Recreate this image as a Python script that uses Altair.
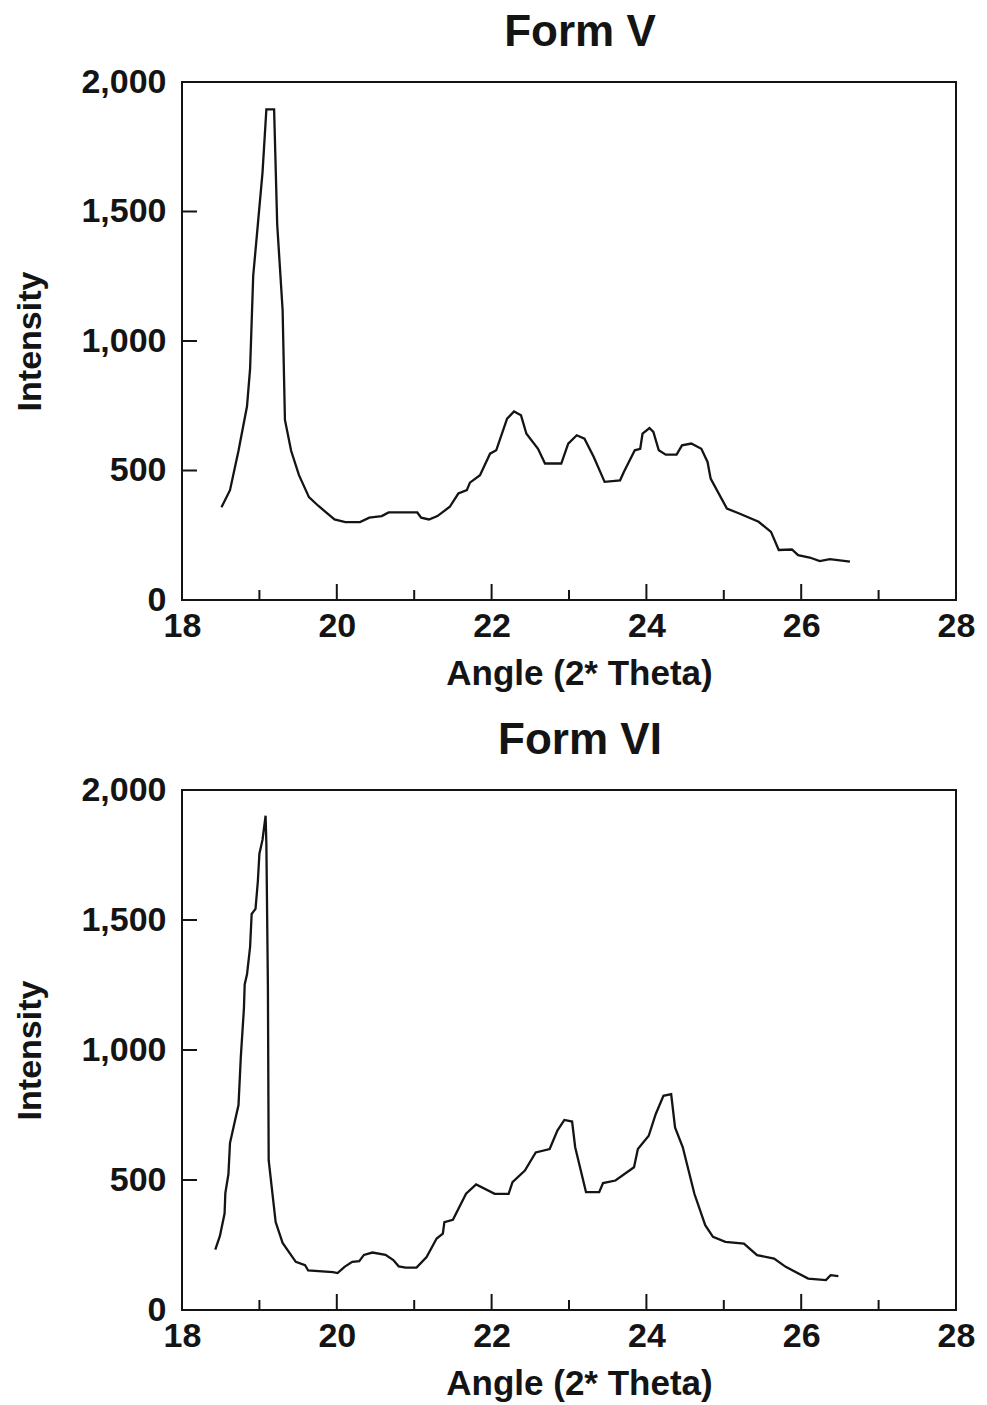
import altair as alt
import pandas as pd

# ---- data ----
v_angle = [18.51, 18.62, 18.73, 18.84, 18.88, 18.92, 18.98, 19.04, 19.09, 19.19,
           19.23, 19.30, 19.33, 19.41, 19.51, 19.64, 19.76, 19.97, 20.11, 20.30,
           20.42, 20.58, 20.67, 21.04, 21.09, 21.19, 21.30, 21.46, 21.57, 21.68,
           21.72, 21.85, 21.98, 22.06, 22.20, 22.29, 22.38, 22.45, 22.60, 22.69,
           22.90, 22.99, 23.10, 23.20, 23.32, 23.46, 23.66, 23.71, 23.85, 23.92,
           23.95, 24.04, 24.09, 24.16, 24.25, 24.39, 24.46, 24.58, 24.71, 24.79,
           24.83, 25.04, 25.20, 25.45, 25.61, 25.71, 25.88, 25.96, 26.11, 26.24,
           26.37, 26.63]
v_int = [358, 424, 576, 748, 894, 1252, 1450, 1649, 1894, 1894,
         1450, 1119, 695, 576, 483, 397, 364, 311, 301, 301,
         318, 324, 338, 338, 318, 311, 324, 360, 411, 424,
         453, 482, 565, 578, 700, 728, 713, 642, 584, 527,
         527, 604, 636, 623, 552, 456, 462, 495, 578, 584,
         642, 664, 649, 578, 561, 561, 597, 604, 584, 533,
         469, 353, 334, 302, 263, 193, 195, 173, 164, 150,
         158, 148]

vi_angle = [18.43, 18.49, 18.55, 18.56, 18.60, 18.62, 18.68, 18.73, 18.76, 18.80,
            18.81, 18.84, 18.88, 18.90, 18.95, 18.98, 19.00, 19.04, 19.08, 19.09,
            19.11, 19.12, 19.17, 19.21, 19.30, 19.47, 19.59, 19.63, 19.95, 20.01,
            20.10, 20.20, 20.29, 20.35, 20.46, 20.63, 20.73, 20.80, 20.89, 21.03,
            21.16, 21.29, 21.37, 21.39, 21.50, 21.67, 21.80, 22.04, 22.22, 22.27,
            22.43, 22.57, 22.75, 22.85, 22.94, 23.04, 23.08, 23.22, 23.39, 23.44,
            23.60, 23.84, 23.89, 24.03, 24.12, 24.22, 24.32, 24.37, 24.47, 24.62,
            24.76, 24.86, 25.02, 25.26, 25.43, 25.65, 25.80, 26.09, 26.32, 26.38,
            26.48]
vi_int = [232, 285, 371, 450, 523, 642, 722, 788, 974, 1159,
          1252, 1291, 1397, 1523, 1543, 1649, 1755, 1808, 1901, 1795,
          1238, 576, 444, 338, 258, 185, 172, 152, 146, 142,
          166, 185, 188, 212, 221, 212, 192, 168, 163, 163,
          204, 275, 294, 338, 347, 447, 483, 447, 447, 492,
          536, 606, 619, 690, 731, 725, 626, 453, 453, 488,
          498, 549, 619, 670, 753, 824, 830, 702, 626, 447,
          326, 281, 262, 255, 211, 198, 166, 121, 115, 134,
          130]

panel_titles = ["Form V", "Form VI"]
x_label_values = [18, 20, 22, 24, 26, 28]
y_label_values = [0, 500, 1000, 1500, 2000]
x_major_ticks = [20, 22, 24, 26]
x_minor_ticks = [19, 21, 23, 25, 27]
y_inner_ticks = [500, 1000, 1500]

W = 774
FONT = "Liberation Sans"
INK = "#141414"

X_AXIS = alt.Axis(title="Angle (2* Theta)", values=x_label_values, format="d",
                  ticks=False, domain=False, grid=False,
                  labelPadding=9, titlePadding=13, titleX=W / 2 + 10,
                  titleFontSize=35,
                  labelFlush=False, labelOverlap=False)
Y_AXIS = alt.Axis(title="Intensity", values=y_label_values, format=",d",
                  ticks=False, domain=False, grid=False,
                  labelPadding=16, titlePadding=33,
                  labelFlush=False, labelOverlap=False)


def panel(title, angles, ints, H):
    df = pd.DataFrame({"angle": angles, "intensity": ints, "i": list(range(len(angles)))})
    xs = alt.Scale(domain=[18, 28], nice=False, zero=False)
    ys = alt.Scale(domain=[0, 2000], nice=False)

    line = alt.Chart(df).mark_line(color=INK, strokeWidth=2.3).encode(
        x=alt.X("angle:Q", scale=xs, axis=X_AXIS),
        y=alt.Y("intensity:Q", scale=ys, axis=Y_AXIS),
        order="i:Q",
    )

    xmaj = alt.Chart(pd.DataFrame({"angle": x_major_ticks})).mark_rule(
        color=INK, strokeWidth=2).encode(
        x=alt.X("angle:Q", scale=xs, axis=X_AXIS),
        y=alt.value(H), y2=alt.value(H - 16))
    xmin = alt.Chart(pd.DataFrame({"angle": x_minor_ticks})).mark_rule(
        color=INK, strokeWidth=2).encode(
        x=alt.X("angle:Q", scale=xs, axis=X_AXIS),
        y=alt.value(H), y2=alt.value(H - 10))
    ytk = alt.Chart(pd.DataFrame({"intensity": y_inner_ticks})).mark_rule(
        color=INK, strokeWidth=2).encode(
        y=alt.Y("intensity:Q", scale=ys, axis=Y_AXIS),
        x=alt.value(0), x2=alt.value(15))

    return alt.layer(line, xmaj, xmin, ytk).properties(
        width=W, height=H,
        title=alt.TitleParams(title, fontSize=44, font=FONT, fontWeight="bold",
                              color=INK, offset=10, anchor="middle", dx=11),
    )


chart = alt.vconcat(
    panel(panel_titles[0], v_angle, v_int, 518),
    panel(panel_titles[1], vi_angle, vi_int, 520),
    spacing=26,
).properties(
    padding={"left": 12, "top": 10, "right": 6, "bottom": 0},
    background="white",
).configure_view(
    stroke=INK, strokeWidth=2,
).configure_axis(
    labelFont=FONT, labelFontSize=34, labelFontWeight="bold", labelColor=INK,
    titleFont=FONT, titleFontSize=34, titleFontWeight="bold", titleColor=INK,
)

chart.save("out.html", embed_options={"renderer": "svg", "actions": False})
